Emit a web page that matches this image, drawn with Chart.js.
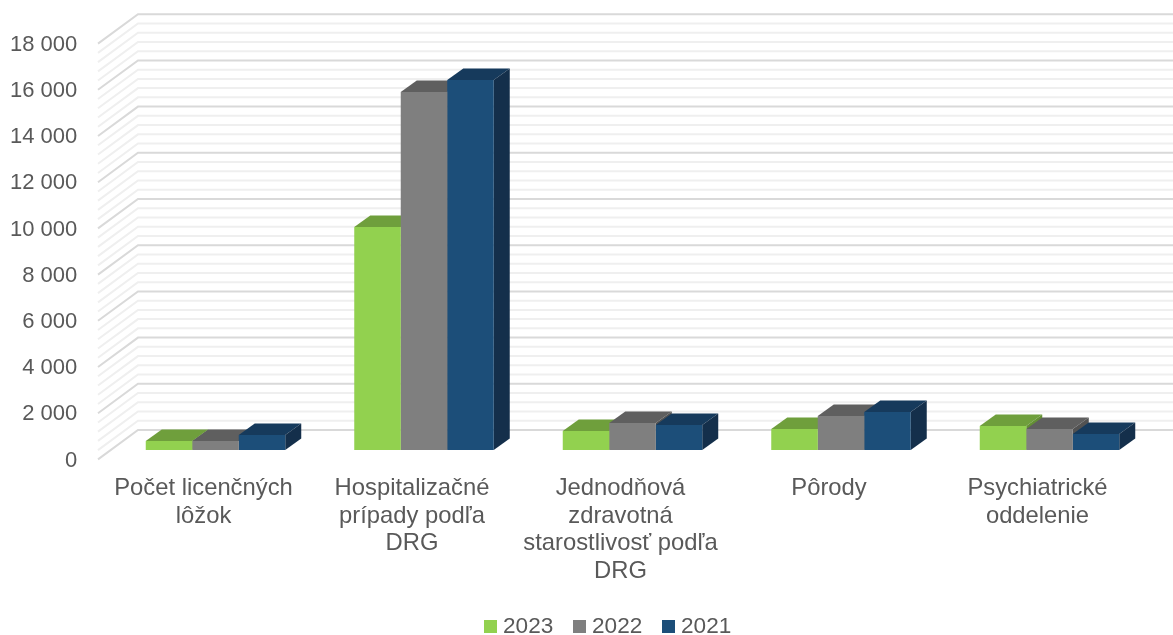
<!DOCTYPE html>
<html><head><meta charset="utf-8">
<style>html,body{margin:0;padding:0;background:#fff}canvas{display:block}</style>
<script src="https://cdn.jsdelivr.net/npm/chart.js@4"></script>
</head><body><canvas id="c" width="1173" height="635"></canvas>
<script>
const categories = [["Počet licenčných","lôžok"],["Hospitalizačné","prípady podľa","DRG"],["Jednodňová","zdravotná","starostlivosť podľa","DRG"],["Pôrody"],["Psychiatrické","oddelenie"]];
const values2023 = [390, 9650, 820, 910, 1040];
const values2022 = [390, 15500, 1170, 1470, 910];
const values2021 = [650, 16020, 1080, 1650, 690];
const seriesNames = ["2023","2022","2021"];
const frontColors = ["#92d14f","#7f7f7f","#1c4e79"];
const topColors = ["#6f9f3c","#5f5f5f","#163a5c"];
const sideColors = ["#649034","#525252","#142f4b"];
const FONT = '"Liberation Sans", Arial, sans-serif';
const TEXT = "#595959";
const DX = 16, DY = 11.5;          // bar depth
const WALL = {frontX: 98, backX: 138, frontDy: 9.4, backDy: -20};
const MINOR = 400;

const scene = {
  id: "scene",
  beforeDatasetsDraw(chart) {
    const {ctx, scales: {y}} = chart;
    ctx.save();
    for (const major of [false, true]) {
      ctx.strokeStyle = major ? "#d9d9d9" : "#efefef";
      ctx.lineWidth = 2;
      for (let v = 0; v <= y.max; v += MINOR) {
        if ((v % y.options.ticks.stepSize === 0) !== major) continue;
        const p = y.getPixelForValue(v);
        ctx.beginPath();
        ctx.moveTo(WALL.frontX, p + WALL.frontDy);
        ctx.lineTo(WALL.backX, p + WALL.backDy);
        ctx.lineTo(chart.width, p + WALL.backDy);
        ctx.stroke();
      }
    }
    const metas = chart.data.datasets.map((d, i) => chart.getDatasetMeta(i));
    const base = y.getPixelForValue(0);
    chart.data.labels.forEach((_, j) => {
      metas.forEach((m, i) => {
        const b = m.data[j];
        const l = b.x - b.width / 2, r = b.x + b.width / 2, t = b.y;
        ctx.fillStyle = topColors[i];
        ctx.beginPath();
        ctx.moveTo(l, t); ctx.lineTo(r, t); ctx.lineTo(r + DX, t - DY); ctx.lineTo(l + DX, t - DY);
        ctx.closePath(); ctx.fill();
        ctx.fillStyle = sideColors[i];
        ctx.beginPath();
        ctx.moveTo(r, t); ctx.lineTo(r + DX, t - DY); ctx.lineTo(r + DX, base - DY); ctx.lineTo(r, base);
        ctx.closePath(); ctx.fill();
      });
    });
    ctx.restore();
  },
  afterDraw(chart) {
    const {ctx} = chart;
    ctx.save();
    ctx.font = "22.6px " + FONT;
    ctx.textBaseline = "middle";
    ctx.textAlign = "left";
    chart.data.datasets.forEach((d, i) => {
      const x = 484 + i * 89;
      ctx.fillStyle = d.backgroundColor;
      ctx.fillRect(x, 620, 13, 13);
      ctx.fillStyle = TEXT;
      ctx.fillText(d.label, x + 19, 627);
    });
    ctx.restore();
  }
};

new Chart(document.getElementById("c"), {
  type: "bar",
  data: {
    labels: categories,
    datasets: [values2023, values2022, values2021].map((v, i) => ({
      label: seriesNames[i], data: v, backgroundColor: frontColors[i], borderWidth: 0,
      categoryPercentage: 0.669, barPercentage: 1
    }))
  },
  plugins: [scene],
  options: {
    responsive: false, animation: false,
    layout: {padding: {top: 34.2, right: 19.25, bottom: 0, left: 0}},
    plugins: {legend: {display: false}, tooltip: {enabled: false}},
    scales: {
      x: {
        grid: {display: false, drawTicks: false}, border: {display: false},
        afterFit(s) { s.height = 185; s.paddingLeft = 0; s.paddingRight = 0; },
        ticks: {color: TEXT, font: {family: FONT, size: 23.8, lineHeight: 1.165},
          padding: 24.5, labelOffset: -12, maxRotation: 0, minRotation: 0, autoSkip: false}
      },
      y: {
        min: 0, max: 18000,
        grid: {display: false, drawTicks: false}, border: {display: false},
        afterFit(s) { s.width = 111.25; s.paddingTop = 0; s.paddingBottom = 0; },
        ticks: {stepSize: 2000, color: TEXT, font: {family: FONT, size: 22},
          padding: 34, labelOffset: 10.5,
          callback: v => String(v).replace(/\B(?=(\d{3})+$)/g, " ")}
      }
    }
  }
});
</script></body></html>
